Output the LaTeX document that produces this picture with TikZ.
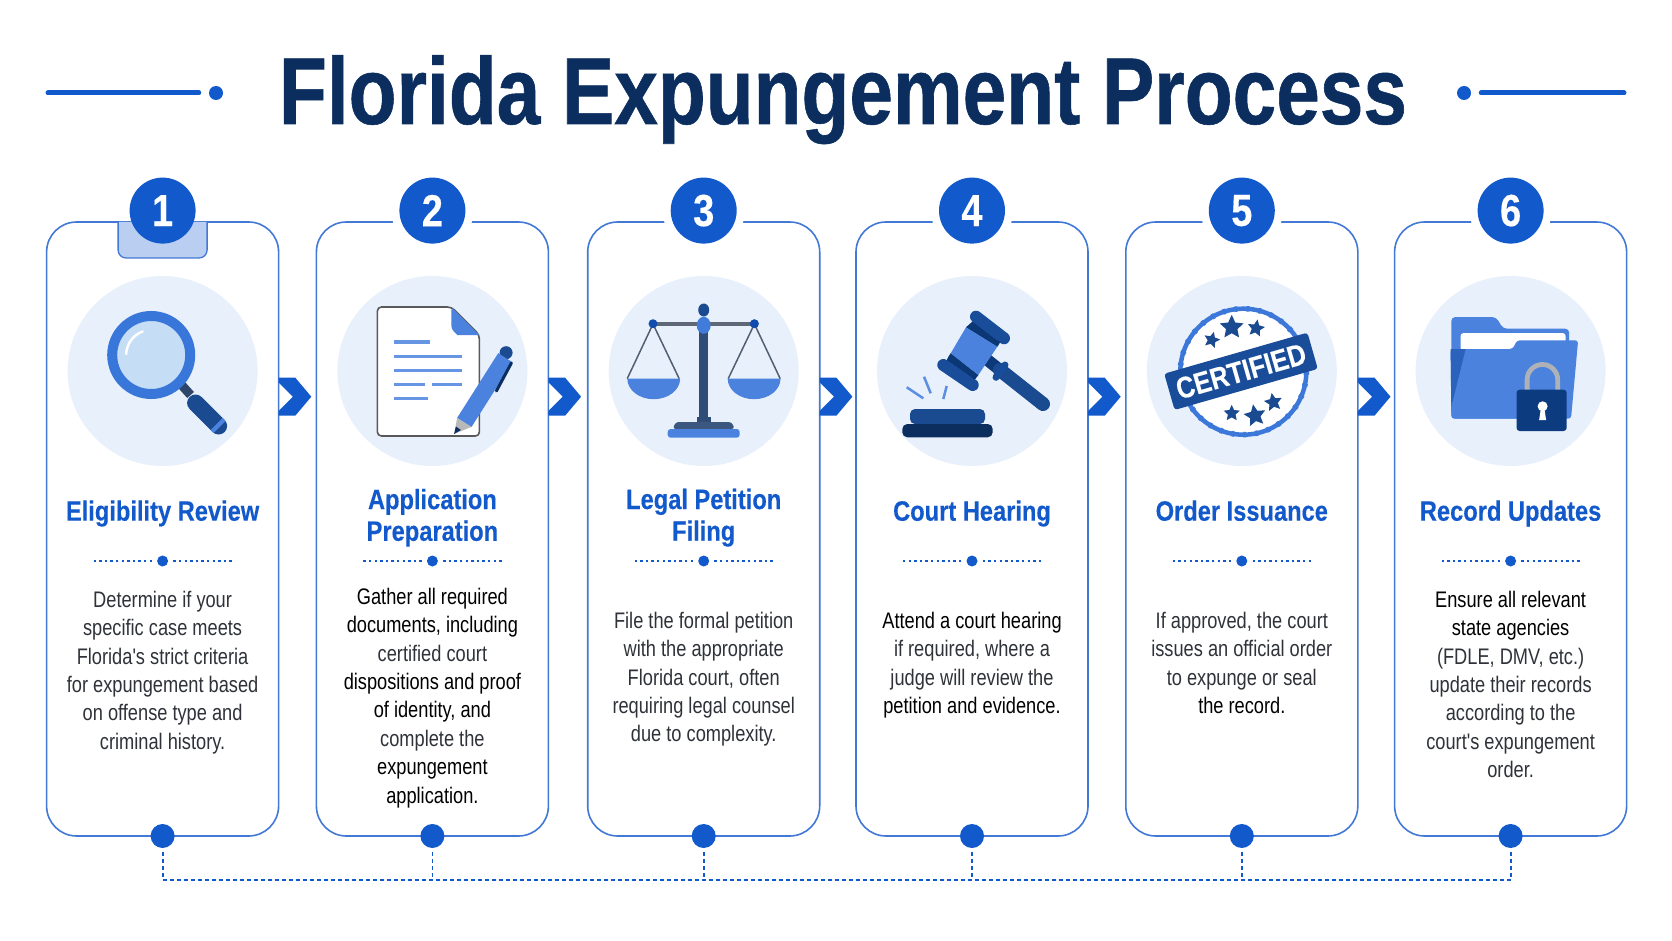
\documentclass[tikz,border=0pt]{standalone}
\usepackage{fontspec}
\setmainfont{Liberation Sans}
\newfontfamily\titlefont[FakeStretch=0.825,FakeBold=0.6]{Liberation Sans}
\newfontfamily\headfont[FakeStretch=0.845,FakeBold=0.25]{Liberation Sans}
\newfontfamily\bodyfont[FakeStretch=0.81]{Liberation Sans}
\usepackage{tikz}
\usetikzlibrary{positioning,chains,shapes.geometric}
\definecolor{navy}{HTML}{0B2E5F}
\definecolor{mainblue}{HTML}{1259CC}
\definecolor{edgeblue}{HTML}{4278D6}
\definecolor{softblue}{HTML}{E8F0FB}
\definecolor{midblue}{HTML}{4A82DE}
\definecolor{deepblue}{HTML}{1A4A90}
\definecolor{tabblue}{HTML}{BACEF1}
\definecolor{lensblue}{HTML}{C5DDF5}
\definecolor{shadeblue}{HTML}{2A62BC}
\definecolor{bodygray}{HTML}{2F3339}
\newcommand{\dk}[1]{\textcolor{black}{#1}}

\tikzset{
  cardbox/.style={draw=edgeblue,line width=1.6pt,fill=white,rounded corners=30pt,
    minimum width=232pt,minimum height=614pt,inner sep=0pt,outer sep=0pt},
  badge/.style={circle,fill=mainblue,minimum size=66pt,inner sep=0pt,text=white,
    font=\headfont\bfseries\fontsize{45}{45}\selectfont},
  halo/.style={circle,fill=white,minimum size=82pt,inner sep=0pt},
  iconbg/.style={circle,fill=softblue,minimum size=190pt,inner sep=0pt},
  dotmark/.style={circle,fill=mainblue,inner sep=0pt},
  headtxt/.style={text=mainblue,align=center,inner sep=0pt,
    font=\headfont\bfseries\fontsize{28}{31.7}\selectfont},
  bodytxt/.style={text=bodygray,align=center,inner sep=0pt,
    font=\bodyfont\fontsize{22.5}{28.4}\selectfont},
  dotline/.style={mainblue,line width=2pt,dash pattern=on 2.4pt off 3.2pt},
  busline/.style={mainblue,line width=1.8pt,dash pattern=on 4pt off 3pt},
  chevron/.pic={\fill[mainblue] (0,-19) -- (16.7,-19) -- (32.7,0) -- (16.7,19) -- (0,19)
    -- (0,14.3) -- (14.3,0) -- (0,-14.3) -- cycle;},
  starmark/.style={star,star points=5,star point ratio=2.1,fill=deepblue,inner sep=0pt},
}

\begin{document}
\begin{tikzpicture}[x=1pt,y=-1pt]
\useasboundingbox (0,0) rectangle (1672,941);

% title
\node[inner sep=0pt,anchor=base,text=navy,font=\titlefont\bfseries\fontsize{95}{95}\selectfont] (title) at (843,124) {Florida Expungement Process};
\node[dotmark,minimum size=14pt] (titleL) at (216,93) {};
\node[dotmark,minimum size=14pt] (titleR) at (1464,93) {};
\coordinate (endL) at (48,93);
\coordinate (endR) at (1624,93);
\draw[mainblue,line width=5pt,line cap=round] (endL) -- ([xshift=-10pt]titleL.west);
\draw[mainblue,line width=5pt,line cap=round] ([xshift=10pt]titleR.east) -- (endR);

% rows
\coordinate (badgerow) at (0,210.6);
\coordinate (iconrow) at (0,371);
\coordinate (headrow) at (0,520.7);
\coordinate (headrowtwo) at (0,517.7);
\coordinate (divrow) at (0,561);
\coordinate (chevrow) at (0,396.7);
\coordinate (dotrow) at (0,836);
\coordinate (busrow) at (0,880);

% cards
\path[start chain=C going right,node distance=37.8pt,nodes={on chain,cardbox}]
    node at (162.6,529) {}
    node {}
    node[xshift=1.5pt] {}
    node[xshift=-1.5pt] {}
    node {}
    node[xshift=-1pt] {};

\draw[edgeblue,line width=1.3pt,fill=tabblue,rounded corners=8pt]
    ([xshift=-44.5pt]C-1.north) -- ++(0,36) -- ++(89,0) -- ++(0,-36);

\foreach \n in {2,...,6}
  \node[halo] (halo\n) at (C-\n.center |- badgerow) {};

\foreach \n in {1,...,6} {
  \node[badge] (num\n) at (C-\n.center |- badgerow) {\n};
  \node[iconbg] (ic\n) at (C-\n.center |- iconrow) {};
  \node[dotmark,minimum size=11pt] (div\n) at (C-\n.center |- divrow) {};
  \draw[dotline] ([xshift=-5pt]div\n.west) -- ++(-59,0);
  \draw[dotline] ([xshift=5pt]div\n.east) -- ++(59,0);
  \node[dotmark,minimum size=24pt] (end\n) at (C-\n.center |- dotrow) {};
  \draw[busline] ([yshift=-4pt]end\n.south) -- (end\n.south |- busrow);
}
\foreach \n in {1,...,5}
  \pic at (C-\n.east |- chevrow) {chevron};
\draw[busline] (end1.south |- busrow) -- (end6.south |- busrow);

% headings
\node[headtxt,anchor=base] (head1) at (C-1 |- headrow) {Eligibility Review};
\node[headtxt] (head2) at (C-2 |- headrowtwo) {Application\\Preparation};
\node[headtxt] (head3) at (C-3 |- headrowtwo) {Legal Petition\\Filing};
\node[headtxt,anchor=base] (head4) at (C-4 |- headrow) {Court Hearing};
\node[headtxt,anchor=base] (head5) at (C-5 |- headrow) {Order Issuance};
\node[headtxt,anchor=base] (head6) at (C-6 |- headrow) {Record Updates};

% body text
\node[bodytxt,below=24pt of div1] (body1) {Determine if your\\specific case meets\\Florida's strict criteria\\for expungement based\\on offense type and\\criminal history.};
\node[bodytxt,below=21pt of div2] (body2) {\dk{Gather all required}\\\dk{documents, including}\\certified court\\\dk{dispositions and proof}\\\dk{of identity, and}\\complete the\\\dk{expungement}\\\dk{application.}};
\node[bodytxt,below=45pt of div3] (body3) {File the formal petition\\with the appropriate\\Florida court, often\\requiring legal counsel\\due to complexity.};
\node[bodytxt,below=45pt of div4] (body4) {\dk{Attend a court hearing}\\if required, where a\\judge will review the\\\dk{petition and evidence.}};
\node[bodytxt,below=45pt of div5] (body5) {If approved, the court\\issues an official order\\to expunge or seal\\\dk{the record.}};
\node[bodytxt,below=24pt of div6] (body6) {\dk{Ensure all relevant}\\\dk{state agencies}\\(FDLE, DMV, etc.)\\update their records\\according to the\\court's expungement\\order.};

% magnifier
\begin{scope}[shift={(ic1)}]
  \draw[line width=9pt,color=navy!70!gray] (19,14) -- (28,24);
  \draw[line width=17pt,line cap=round,deepblue] (33,32) -- (56,55);
  \draw[line width=17pt,line cap=butt,midblue] (54,53) -- (57,56);
  \fill[lensblue,draw=midblue!70!mainblue,line width=10pt] (-11.4,-16) circle[radius=39];
  \draw[white,line width=2.5pt,line cap=round] (-36.4,-16.9) arc[start angle=182,end angle=250,radius=25];
\end{scope}

% document and pen
\begin{scope}[shift={(ic2)}]
  \draw[fill=white,draw=gray!70!black,line width=1.6pt,rounded corners=4pt]
    (-55,-64) -- (19,-64) -- (47,-36) -- (47,65) -- (-55,65) -- cycle;
  \fill[midblue] (19,-64) -- (47,-36) -- (25,-36) [rounded corners=3pt] -- (19,-42) -- cycle;
  \draw[midblue!85,line width=3.5pt] (-38.6,-29) -- (-2.5,-29);
  \draw[midblue!85,line width=3.5pt] (-38.6,-14.7) -- (30,-14.7);
  \draw[midblue!85,line width=3.5pt] (-38.6,-0.7) -- (30,-0.7);
  \draw[midblue!85,line width=3.5pt] (-38.6,13.3) -- (-7.9,13.3);
  \draw[midblue!85,line width=3.5pt] (-0.4,13.3) -- (30,13.3);
  \draw[midblue!85,line width=3.5pt] (-38.6,27.3) -- (-4.3,27.3);
  \fill[gray!55] (21.7,63) -- (39.2,55.8) -- (24.8,46.8) -- cycle;
  \fill[navy] (21.7,63) -- (28.5,59) -- (23.5,55.5) -- cycle;
  \fill[deepblue] (73.7,-18.3) circle[radius=6.5];
  \draw[midblue,line width=17pt] (32,51.3) -- (73,-13.3);
  \draw[navy,line width=3pt,line cap=round] (79,-8) -- (64,20);
\end{scope}

% scales
\begin{scope}[shift={(ic3)}]
  \draw[gray!60!navy,line width=1.5pt] (-50.7,-47) -- (-76.5,7.7);
  \draw[gray!60!navy,line width=1.5pt] (-50.7,-47) -- (-24.5,7.7);
  \draw[gray!60!navy,line width=1.5pt] (50.7,-47) -- (24.5,7.7);
  \draw[gray!60!navy,line width=1.5pt] (50.7,-47) -- (76.5,7.7);
  \draw[gray!70!navy,line width=4pt] (-50.7,-47.3) -- (50.7,-47.3);
  \fill[navy!85!white] (-4.5,-40) rectangle (4.5,46);
  \fill[navy!85!white] (-7,46) rectangle (7,52);
  \fill[navy!80!white,rounded corners=3pt] (-31,58) -- (-28,51) -- (28,51) -- (31,58) -- cycle;
  \fill[midblue,rounded corners=3pt] (-36,58) rectangle (36,66.7);
  \fill[mainblue!85!black] (-50.7,-47.3) circle[radius=4.5];
  \fill[mainblue!85!black] (50.7,-47.3) circle[radius=4.5];
  \fill[midblue!85!mainblue] (0,-45.7) ellipse[x radius=7,y radius=8.5];
  \fill[deepblue] (0,-61) ellipse[x radius=5.5,y radius=6.5];
  \fill[midblue] (-76.4,7.7) arc[start angle=180,end angle=0,x radius=26.4,y radius=20.5] -- cycle;
  \fill[midblue] (24,7.7) arc[start angle=180,end angle=0,x radius=26.4,y radius=20.5] -- cycle;
\end{scope}

% gavel
\begin{scope}[shift={(ic4)}]
  \fill[deepblue,rounded corners=5pt] (-62,53) -- (-62,38) -- (13,38) -- (13,53) -- cycle;
  \fill[navy,rounded corners=5pt] (-69.7,53) rectangle (20.7,66.3);
  \draw[midblue!90,line width=2.5pt] (-65.3,16.3) -- (-48.7,27.3);
  \draw[midblue!90,line width=2.5pt] (-48,5.7) -- (-41.3,22.3);
  \draw[midblue!90,line width=2.5pt] (-25.3,15) -- (-28.7,28);
  \draw[line width=12pt,navy!75!mainblue] (12,-13.7) -- (28,-1);
  \draw[line width=14pt,line cap=round,deepblue] (28,-1) -- (71,33);
  \draw[line width=7pt,line cap=round,deepblue!80!mainblue] (33,-6) -- (24,6.3);
  \fill[navy!80!mainblue] (1,-50) -- (30,-32) -- (25.3,-24.3) -- (-6,-43.7) -- cycle;
  \fill[navy!80!mainblue] (-21.3,-17.7) -- (6.3,4) -- (0,12) -- (-27,-8) -- cycle;
  \draw[line width=12pt,line cap=round,deepblue!85!mainblue] (4,-54.3) -- (32,-32.7);
  \draw[line width=12pt,line cap=round,deepblue!85!mainblue] (-28.7,-6) -- (0.7,14);
  \fill[navy!80!mainblue] (-1,-47) -- (28,-29) -- (25.3,-24.3) -- (-6,-43.7) -- cycle;
  \fill[navy!80!mainblue] (-21.3,-17.7) -- (6.3,4) -- (2.5,8.5) -- (-24.5,-12.5) -- cycle;
  \fill[midblue] (-6,-43.7) -- (25.3,-24.3) -- (6.3,4) -- (-21.3,-17.7) -- cycle;
\end{scope}

% certified seal
\begin{scope}[shift={(ic5)}]
  \draw[fill=white,draw=midblue!75!mainblue,line width=4.5pt] (1.5,0.7) circle[radius=63];
  \draw[midblue!75!mainblue,line width=5.5pt,dash pattern=on 3pt off 9pt] (1.5,0.7) circle[radius=63];
  \node[starmark,minimum size=25pt] (st1) at (-10.1,-43.7) {};
  \node[starmark,minimum size=18pt,rotate=-10] (st2) at (14.2,-42.7) {};
  \node[starmark,minimum size=17pt,rotate=-15] (st3) at (-30.1,-31) {};
  \node[starmark,minimum size=17pt] (st4) at (-10.1,42.3) {};
  \node[starmark,minimum size=23pt,rotate=10] (st5) at (13.2,44.7) {};
  \node[starmark,minimum size=19pt,rotate=10] (st6) at (31.5,31.3) {};
  \node[fill=deepblue!85!mainblue,text=white,rounded corners=3pt,rotate=16,inner sep=0pt,
    minimum width=149pt,minimum height=37.7pt,font=\headfont\bfseries\fontsize{30}{30}\selectfont] (cert) at (-0.8,0.3) {CERTIFIED};
\end{scope}

% folder and lock
\begin{scope}[shift={(ic6)}]
  \fill[midblue,rounded corners=4pt] (-59.3,47.7) -- (-59.3,-54) -- (-14.6,-54) -- (-7.5,-42.3) -- (58.6,-42.3) -- (58.6,47.7) -- cycle;
  \fill[white,rounded corners=3pt] (-50,-20) -- (-50,-38) -- (55,-38) -- (55,-20) -- cycle;
  \fill[midblue,rounded corners=3pt] (-60,-22) -- (2,-22) -- (6.4,-30.7) -- (67.5,-30.7) -- (60.4,47.7) -- (-59.3,47.7) -- cycle;
  \fill[shadeblue] (-60,-22) -- (-45,-22) -- (-59.3,36) -- cycle;
  \draw[gray!55!softblue,line width=4.8pt] (16.5,20) -- (16.5,8.8) arc[start angle=180,end angle=360,radius=15.3] -- (47.1,20);
  \fill[navy!70!mainblue,rounded corners=3pt] (6,18.7) rectangle (56,60);
  \fill[white] (32,35.3) circle[radius=5];
  \fill[white] (30.5,36) -- (33.5,36) -- (35.5,49) -- (28.5,49) -- cycle;
\end{scope}
\end{tikzpicture}
\end{document}
